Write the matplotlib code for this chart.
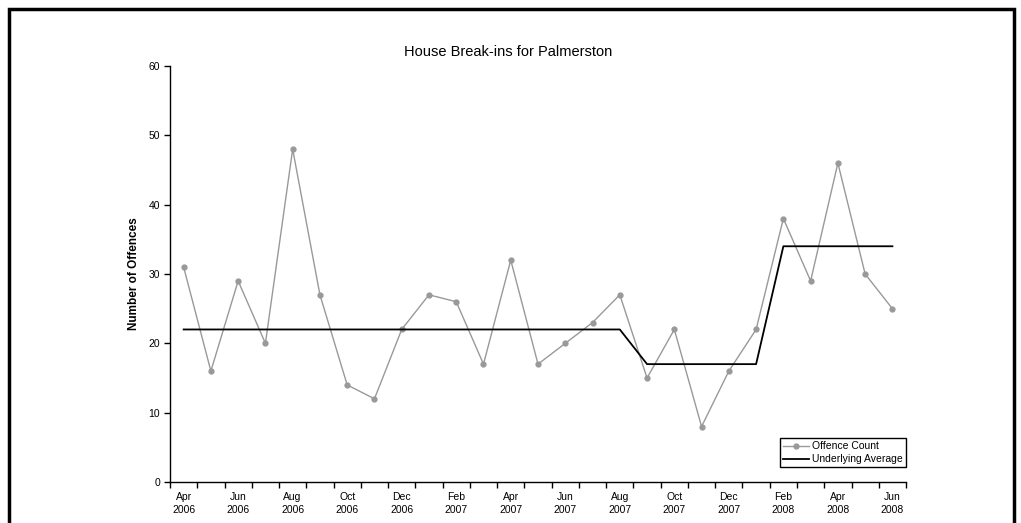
import matplotlib.pyplot as plt
import matplotlib.patches as mpatches
import numpy as np

plt.rcParams['font.family'] = ['Liberation Sans', 'DejaVu Sans']

months = ["Apr", "May", "Jun", "Jul", "Aug", "Sep", "Oct", "Nov", "Dec", "Jan", "Feb", "Mar",
          "Apr", "May", "Jun", "Jul", "Aug", "Sep", "Oct", "Nov", "Dec", "Jan", "Feb", "Mar",
          "Apr", "May", "Jun"]
years = [2006] * 9 + [2007] * 12 + [2008] * 6
offences = [31, 16, 29, 20, 48, 27, 14, 12, 22, 27, 26, 17, 32, 17, 20, 23, 27,
            15, 22, 8, 16, 22, 38, 29, 46, 30, 25]
average = [22] * 17 + [17] * 5 + [34] * 5

x = np.arange(len(offences))
labels = [f"{m}\n{y}" for m, y in zip(months, years)]

fig = plt.figure(figsize=(10.21, 5.23), dpi=100)
ax = fig.add_axes([0.1665, 0.0784, 0.7209, 0.7954])

ax.plot(x, offences, "o-", color="#999999", lw=1, ms=3.5, mfc="#999999", mec="#999999",
        label="Offence Count")
ax.plot(x, average, "-", color="black", lw=1.3, label="Underlying Average")

ax.set_xlim(-0.5, len(x) - 0.5)
ax.set_ylim(0, 60)
ax.set_yticks(np.arange(0, 61, 10))
ax.set_xticks(x[::2])
ax.set_xticklabels(labels[::2], linespacing=1.35)
ax.set_xticks(np.arange(-0.5, len(x), 1), minor=True)
ax.tick_params(axis="x", which="major", length=0, labelsize=7.5, pad=7)
ax.tick_params(axis="x", which="minor", length=4, width=1, direction="out")
ax.tick_params(axis="y", length=4, width=1, labelsize=7.5, pad=3)

for s in ["top", "right"]:
    ax.spines[s].set_visible(False)
for s in ["left", "bottom"]:
    ax.spines[s].set_linewidth(1)

fig.text(508 / 1021, 1 - 52 / 523, "House Break-ins for Palmerston", fontsize=10.5,
         ha="center", va="center")
ax.set_ylabel("Number of Offences", fontsize=8.5, fontweight="bold", labelpad=6)

leg = ax.legend(loc="lower right", bbox_to_anchor=(1.0, 0.035), fontsize=7.5, fancybox=False,
                edgecolor="black", framealpha=1, handlelength=2.5, borderpad=0.3,
                labelspacing=0.3, handletextpad=0.3, borderaxespad=0)
leg.get_frame().set_linewidth(1)

fig.patches.append(mpatches.Rectangle((9 / 1021, -0.1), 1005 / 1021, 1.1 - 9 / 523,
                                      transform=fig.transFigure, fill=False,
                                      edgecolor="black", lw=2.5, clip_on=False))

fig.savefig("out.png", dpi=100)
